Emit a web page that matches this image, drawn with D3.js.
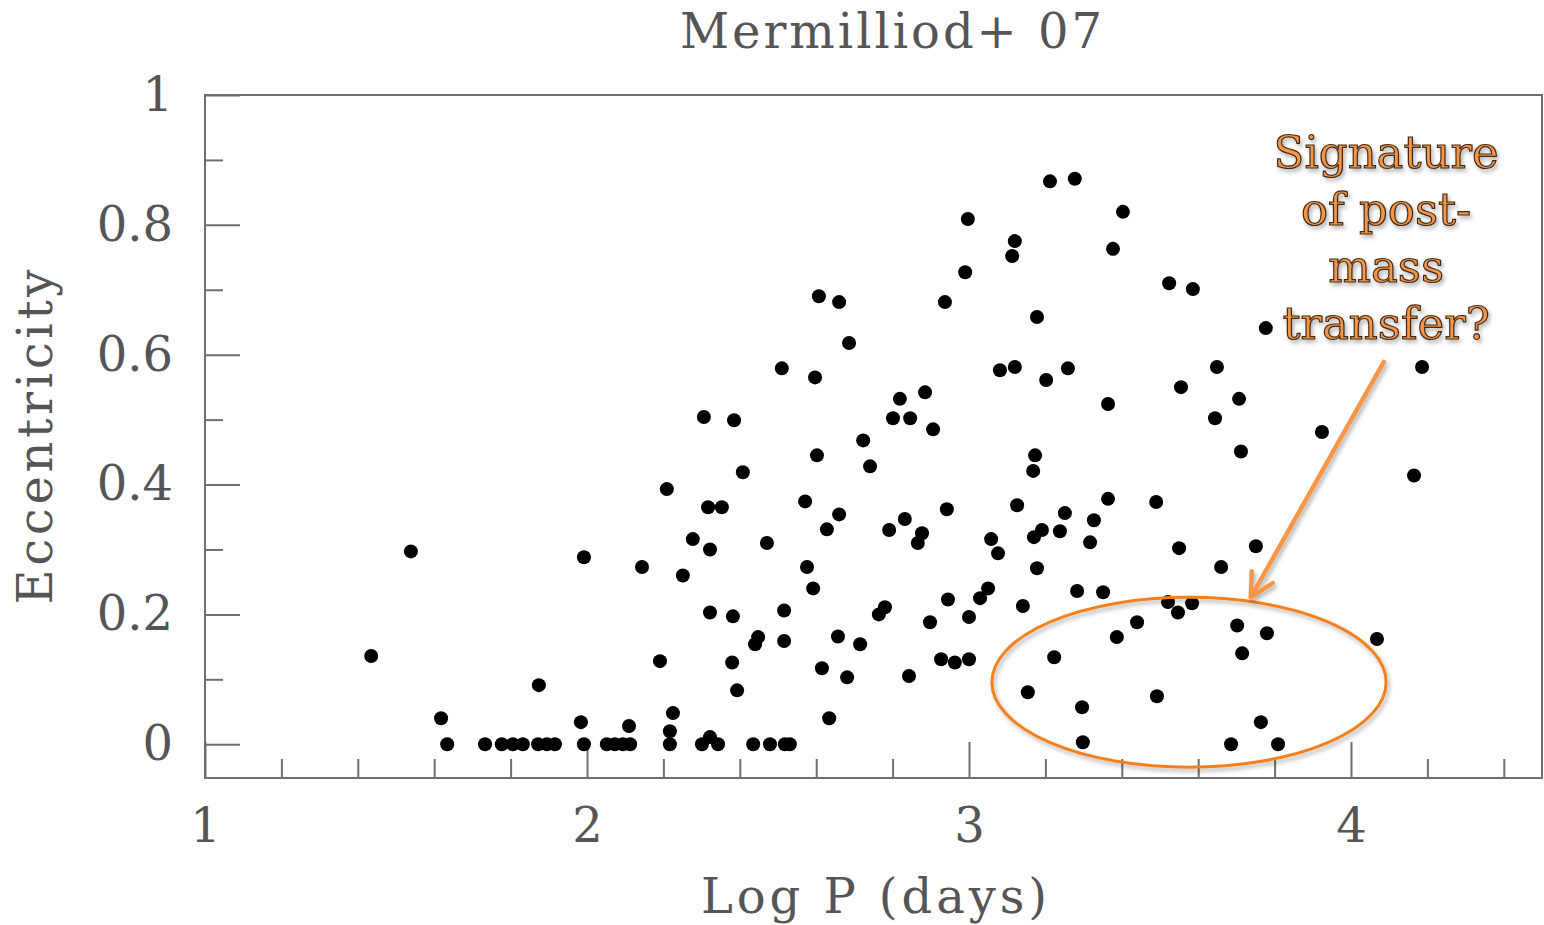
<!DOCTYPE html>
<html>
<head>
<meta charset="utf-8">
<script src="https://cdn.jsdelivr.net/npm/d3@7"></script>
<style>
  html, body { margin: 0; padding: 0; background: #fff; }
  svg { display: block; }
</style>
</head>
<body>
<svg id="chart" width="1544" height="925"></svg>
<script>
// Binary orbits: log period (days) vs. eccentricity
const logP = [
  1.435, 1.539, 1.618, 1.634, 1.733, 1.777, 1.806, 1.832, 1.872, 1.895,
  1.916, 1.874, 1.984, 1.992, 2.052, 2.073, 2.094, 2.113, 2.110, 1.992,
  2.408, 2.209, 2.317, 2.353, 2.277, 2.322, 2.471, 2.144, 2.251, 2.322,
  2.382, 2.516, 2.448, 2.440, 2.516, 2.191, 2.380, 2.393, 2.225, 2.217,
  2.217, 2.301, 2.322, 2.343, 2.435, 2.479, 2.518, 2.531,
  2.723, 2.602, 2.741, 2.571, 2.660, 2.628, 2.791, 2.832, 2.877, 2.866,
  2.942, 3.058, 3.076, 2.576, 2.592, 2.780, 2.764, 2.945, 2.898, 3.000,
  3.029, 3.050, 2.657, 2.715, 2.615, 2.681, 2.843, 2.927, 2.963, 3.000,
  2.634,
  3.173, 3.168, 3.126, 3.364, 3.490, 3.251, 3.327, 3.191, 3.170, 3.238,
  3.317, 3.550, 3.178, 3.141, 3.283, 3.351, 3.521, 3.547, 3.584, 3.440,
  3.387, 3.223, 3.154, 3.296, 3.492, 3.298,
  3.712, 4.165, 3.751, 3.660, 3.702, 3.780, 3.715, 4.068, 3.764, 3.686,
  3.809,
  2.510, 2.306, 2.385,
  2.997, 2.990, 2.937, 2.607, 2.660, 2.686, 2.597, 3.081, 2.885, 2.819,
  2.801, 2.846, 2.906,
  3.212, 3.277, 3.403, 3.120, 3.113, 3.377, 3.524, 3.586, 3.178, 3.120,
  3.202, 3.259, 3.364, 3.555,
  3.777, 3.649, 3.707, 3.644, 3.924, 4.186
];
const eccentricity = [
  0.136, 0.297, 0.040, 0.000, 0.000, 0.000, 0.000, 0.000, 0.000, 0.000,
  0.000, 0.091, 0.034, 0.000, 0.000, 0.000, 0.000, 0.000, 0.028, 0.288,
  0.419, 0.393, 0.365, 0.365, 0.316, 0.300, 0.310, 0.273, 0.260, 0.203,
  0.197, 0.206, 0.165, 0.154, 0.159, 0.128, 0.126, 0.083, 0.048, 0.020,
  0.000, 0.000, 0.011, 0.000, 0.000, 0.000, 0.000, 0.000,
  0.468, 0.445, 0.428, 0.374, 0.354, 0.331, 0.330, 0.347, 0.325, 0.310,
  0.362, 0.316, 0.294, 0.273, 0.240, 0.211, 0.200, 0.223, 0.188, 0.196,
  0.225, 0.240, 0.166, 0.154, 0.117, 0.103, 0.105, 0.131, 0.126, 0.131,
  0.040,
  0.445, 0.421, 0.368, 0.378, 0.373, 0.356, 0.345, 0.330, 0.319, 0.328,
  0.311, 0.302, 0.271, 0.213, 0.236, 0.234, 0.219, 0.203, 0.217, 0.188,
  0.165, 0.134, 0.080, 0.057, 0.074, 0.003,
  0.451, 0.414, 0.305, 0.273, 0.183, 0.171, 0.140, 0.162, 0.034, 0.000,
  0.000,
  0.579, 0.504, 0.499,
  0.809, 0.727, 0.681, 0.690, 0.681, 0.618, 0.565, 0.576, 0.542, 0.532,
  0.502, 0.502, 0.485,
  0.867, 0.871, 0.820, 0.775, 0.752, 0.763, 0.710, 0.701, 0.658, 0.581,
  0.561, 0.579, 0.524, 0.550,
  0.641, 0.581, 0.532, 0.502, 0.481, 0.581
];

const xMajorTicks = [1, 2, 3, 4];
const xTickLabels = ["1", "2", "3", "4"];
const yMajorTicks = [0, 0.2, 0.4, 0.6, 0.8, 1];
const yTickLabels = ["0", "0.2", "0.4", "0.6", "0.8", "1"];
const noteLines = ["Signature", "of post-", "mass", "transfer?"];
const titleText = "Mermilliod+ 07";
const xLabelText = "Log P (days)";
const yLabelText = "Eccentricity";

const svg = d3.select("#chart");
const axisColor = "#6f6f6f";
const textColor = "#555";
const orange = "#F79646";

const x = d3.scaleLinear().domain([1, 4.5]).range([205, 1542]);
const y = d3.scaleLinear().domain([-0.052, 1]).range([778, 95]);

// soft shadow for the callout pieces
const defs = svg.append("defs");
const sh = defs.append("filter").attr("id", "shadow")
  .attr("x", "-20%").attr("y", "-20%").attr("width", "140%").attr("height", "140%");
sh.append("feDropShadow").attr("dx", 2).attr("dy", 3).attr("stdDeviation", 2)
  .attr("flood-color", "#000").attr("flood-opacity", 0.3);

// frame
svg.append("rect")
  .attr("x", x(1)).attr("y", y(1))
  .attr("width", x(4.5) - x(1)).attr("height", y(-0.052) - y(1))
  .attr("fill", "none").attr("stroke", axisColor).attr("stroke-width", 2);

function styleAxis(g, size) {
  g.select(".domain").remove();
  g.selectAll("line").attr("stroke", axisColor).attr("stroke-width", 2);
  g.selectAll("text").attr("fill", textColor)
    .attr("font-family", "'DejaVu Serif', serif").attr("font-size", size);
}

// x axis: major + minor ticks pointing inward
const xMinor = d3.range(12, 45, 2).map(v => v / 10).filter(v => !Number.isInteger(v));
svg.append("g").attr("transform", `translate(0,${y(-0.052)})`)
  .call(d3.axisBottom(x).tickValues(xMinor).tickSize(-19).tickFormat(""))
  .call(g => styleAxis(g, 48));
svg.append("g").attr("transform", `translate(0,${y(-0.052)})`)
  .call(d3.axisBottom(x).tickValues(xMajorTicks).tickSize(-36).tickPadding(30)
    .tickFormat((d, i) => xTickLabels[i]))
  .call(g => styleAxis(g, 48));

// y axis
const yMinor = d3.range(1, 10, 2).map(v => v / 10);
svg.append("g").attr("transform", `translate(${x(1)},0)`)
  .call(d3.axisLeft(y).tickValues(yMinor).tickSize(-18).tickFormat(""))
  .call(g => styleAxis(g, 48));
svg.append("g").attr("transform", `translate(${x(1)},0)`)
  .call(d3.axisLeft(y).tickValues(yMajorTicks).tickSize(-35).tickPadding(32)
    .tickFormat((d, i) => yTickLabels[i]))
  .call(g => styleAxis(g, 48));

// titles
svg.append("text").attr("x", 891).attr("y", 48)
  .attr("text-anchor", "middle").attr("fill", textColor)
  .attr("font-family", "'DejaVu Serif', serif").attr("font-size", 48)
  .attr("textLength", 422).attr("lengthAdjust", "spacing")
  .text(titleText);
svg.append("text").attr("x", 874).attr("y", 913)
  .attr("text-anchor", "middle").attr("fill", textColor)
  .attr("font-family", "'DejaVu Serif', serif").attr("font-size", 48)
  .attr("textLength", 346).attr("lengthAdjust", "spacing")
  .text(xLabelText);
svg.append("text").attr("transform", "translate(52,437) rotate(-90)")
  .attr("text-anchor", "middle").attr("fill", textColor)
  .attr("font-family", "'DejaVu Serif', serif").attr("font-size", 48)
  .attr("textLength", 335).attr("lengthAdjust", "spacing")
  .text(yLabelText);

// data points
svg.append("g").selectAll("circle")
  .data(logP.map((p, i) => [p, eccentricity[i]]))
  .join("circle")
  .attr("cx", d => x(d[0])).attr("cy", d => y(d[1]))
  .attr("r", 7).attr("fill", "#000");

// callout: ellipse around the low-eccentricity long-period group
const ellC = [3.576, 0.0955];
svg.append("ellipse")
  .attr("cx", x(ellC[0])).attr("cy", y(ellC[1]))
  .attr("rx", x(ellC[0] + 0.516) - x(ellC[0]))
  .attr("ry", y(ellC[1] - 0.131) - y(ellC[1]))
  .attr("fill", "none").attr("stroke", "#F4801F").attr("stroke-width", 3)
  .attr("filter", "url(#shadow)");

// arrow from the note to the ellipse
const a0 = [x(4.086), y(0.589)], a1 = [x(3.738), y(0.2265)];
const ang = Math.atan2(a1[1] - a0[1], a1[0] - a0[0]);
const headLen = 26, headAng = Math.PI / 6.5;
const arrow = svg.append("g").attr("filter", "url(#shadow)")
  .attr("stroke", orange).attr("stroke-width", 4.5)
  .attr("stroke-linecap", "round").attr("fill", "none");
arrow.append("line")
  .attr("x1", a0[0]).attr("y1", a0[1]).attr("x2", a1[0]).attr("y2", a1[1]);
arrow.append("path").attr("stroke-linejoin", "round")
  .attr("d", d3.line()([
    [a1[0] - headLen * Math.cos(ang - headAng), a1[1] - headLen * Math.sin(ang - headAng)],
    a1,
    [a1[0] - headLen * Math.cos(ang + headAng), a1[1] - headLen * Math.sin(ang + headAng)]
  ]));

// note text
const note = svg.append("text")
  .attr("x", x(4.092)).attr("y", y(0.8875))
  .attr("text-anchor", "middle")
  .attr("font-family", "'DejaVu Serif', serif").attr("font-size", 45)
  .attr("fill", orange).attr("stroke", "#2a1808").attr("stroke-width", 1.2)
  .attr("stroke-opacity", 0.9)
  .attr("filter", "url(#shadow)");
note.selectAll("tspan").data(noteLines).join("tspan")
  .attr("x", x(4.092)).attr("dy", (d, i) => i === 0 ? 0 : 57)
  .text(d => d);
</script>
</body>
</html>
